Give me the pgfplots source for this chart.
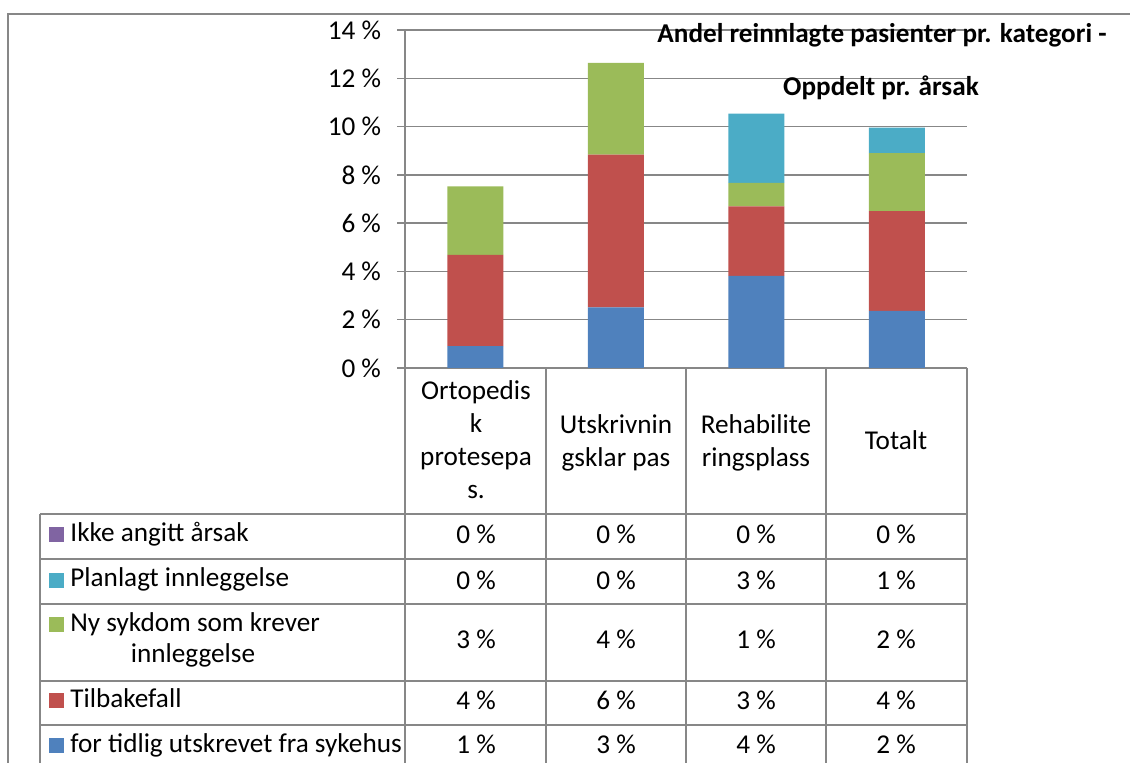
\documentclass[border=0pt]{standalone}
\usepackage{fontspec}
\setmainfont{Carlito}
\usepackage{pgfplots}
\usepackage{pgfplotstable}
\pgfplotsset{compat=1.18}
\definecolor{xblue}{HTML}{4F81BD}
\definecolor{xred}{HTML}{C0504D}
\definecolor{xgreen}{HTML}{9BBB59}
\definecolor{xcyan}{HTML}{4BACC6}
\definecolor{xpurple}{HTML}{8064A2}
\definecolor{gridgray}{HTML}{878787}

% andel reinnlagte (%), stacked per category
\pgfplotstableread{
cat blue red green cyan purple
0 0.91 3.78 2.83 0.00 0
1 2.51 6.33 3.80 0.00 0
2 3.82 2.87 0.98 2.87 0
3 2.37 4.13 2.40 1.06 0
}\reasons

\begin{document}
\begin{tikzpicture}[font=\fontsize{13.6pt}{16.5pt}\selectfont]
% table and frame, in pixel units of the reference
\begin{scope}[x=0.5pt,y=-0.5pt]
\useasboundingbox (0,0) rectangle (1130,763);
\draw[gridgray,line width=0.6pt] (8,763) -- (8,14) -- (1130,14);
\begin{scope}[gridgray,line width=0.75pt]
\foreach \xx in {405,546,686,826,967} \draw (\xx,368) -- (\xx,763);
\draw (405,368) -- (967,368);
\foreach \yy in {514,559,604,681,725} \draw (40,\yy) -- (967,\yy);
\draw (40,514) -- (40,763);
\end{scope}
% header
\node[anchor=base] at (476,400) {Ortopedis};
\node[anchor=base] at (476,433) {k};
\node[anchor=base] at (476,466) {protesepa};
\node[anchor=base] at (476,499) {s.};
\node[anchor=base] at (616,434) {Utskrivnin};
\node[anchor=base] at (616,467) {gsklar pas};
\node[anchor=base] at (756,434) {Rehabilite};
\node[anchor=base] at (756,467) {ringsplass};
\node[anchor=base] at (896,450) {Totalt};
% legend keys and row names
\fill[xpurple] (49,527) rectangle (64,542);
\fill[xcyan] (49,573) rectangle (64,588);
\fill[xgreen] (49,617) rectangle (64,632);
\fill[xred] (49,693) rectangle (64,708);
\fill[xblue] (49,738) rectangle (64,753);
\node[anchor=base west,inner sep=0pt] at (70,542) {Ikke angitt årsak};
\node[anchor=base west,inner sep=0pt] at (70,587) {Planlagt innleggelse};
\node[anchor=base west,inner sep=0pt] at (70,632) {Ny sykdom som krever};
\node[anchor=base,inner sep=0pt] at (193,663) {innleggelse};
\node[anchor=base west,inner sep=0pt] at (70,708) {Tilbakefall};
\node[anchor=base west,inner sep=0pt] at (70,753) {for tidlig utskrevet fra sykehus};
% values
\foreach \xx/\a/\b/\c/\d/\e in {476/0/0/3/4/1,616/0/0/4/6/3,756/0/3/1/3/4,896/0/1/2/4/2}{
  \node[anchor=base] at (\xx,544) {\a{} \%};
  \node[anchor=base] at (\xx,590) {\b{} \%};
  \node[anchor=base] at (\xx,649) {\c{} \%};
  \node[anchor=base] at (\xx,710) {\d{} \%};
  \node[anchor=base] at (\xx,754) {\e{} \%};
}
\end{scope}
\begin{axis}[
at={(202.5pt,-184pt)},anchor=south west,
scale only axis,width=281pt,height=169pt,
xmin=-0.5,xmax=3.5,ymin=0,ymax=14,
ybar stacked,bar width=28pt,
axis x line=none,axis y line*=left,
axis line style={-},
y axis line style={draw=gridgray,line width=0.75pt},
xtick=\empty,
ytick={0,2,4,6,8,10,12,14},
yticklabels={0 \%,2 \%,4 \%,6 \%,8 \%,10 \%,12 \%,14 \%},
ymajorgrids,
grid style={draw=gridgray,line width=0.75pt},
tick align=outside,major tick length=4pt,
ytick style={draw=gridgray,line width=0.75pt},
yticklabel style={font=\fontsize{13.6pt}{16.5pt}\selectfont,xshift=-4.5pt}]
\addplot[fill=xblue,draw=none] table[x=cat,y=blue]{\reasons};
\addplot[fill=xred,draw=none] table[x=cat,y=red]{\reasons};
\addplot[fill=xgreen,draw=none] table[x=cat,y=green]{\reasons};
\addplot[fill=xcyan,draw=none] table[x=cat,y=cyan]{\reasons};
\addplot[fill=xpurple,draw=none] table[x=cat,y=purple]{\reasons};
\end{axis}
% title, on top of the grid
\begin{scope}[x=0.5pt,y=-0.5pt]
\node[anchor=base,font=\fontsize{13.6pt}{16.5pt}\selectfont\bfseries] at (882,43) {Andel reinnlagte pasienter pr. kategori -};
\node[anchor=base,font=\fontsize{13.6pt}{16.5pt}\selectfont\bfseries] at (881,96) {Oppdelt pr. årsak};
\end{scope}
\end{tikzpicture}
\end{document}
